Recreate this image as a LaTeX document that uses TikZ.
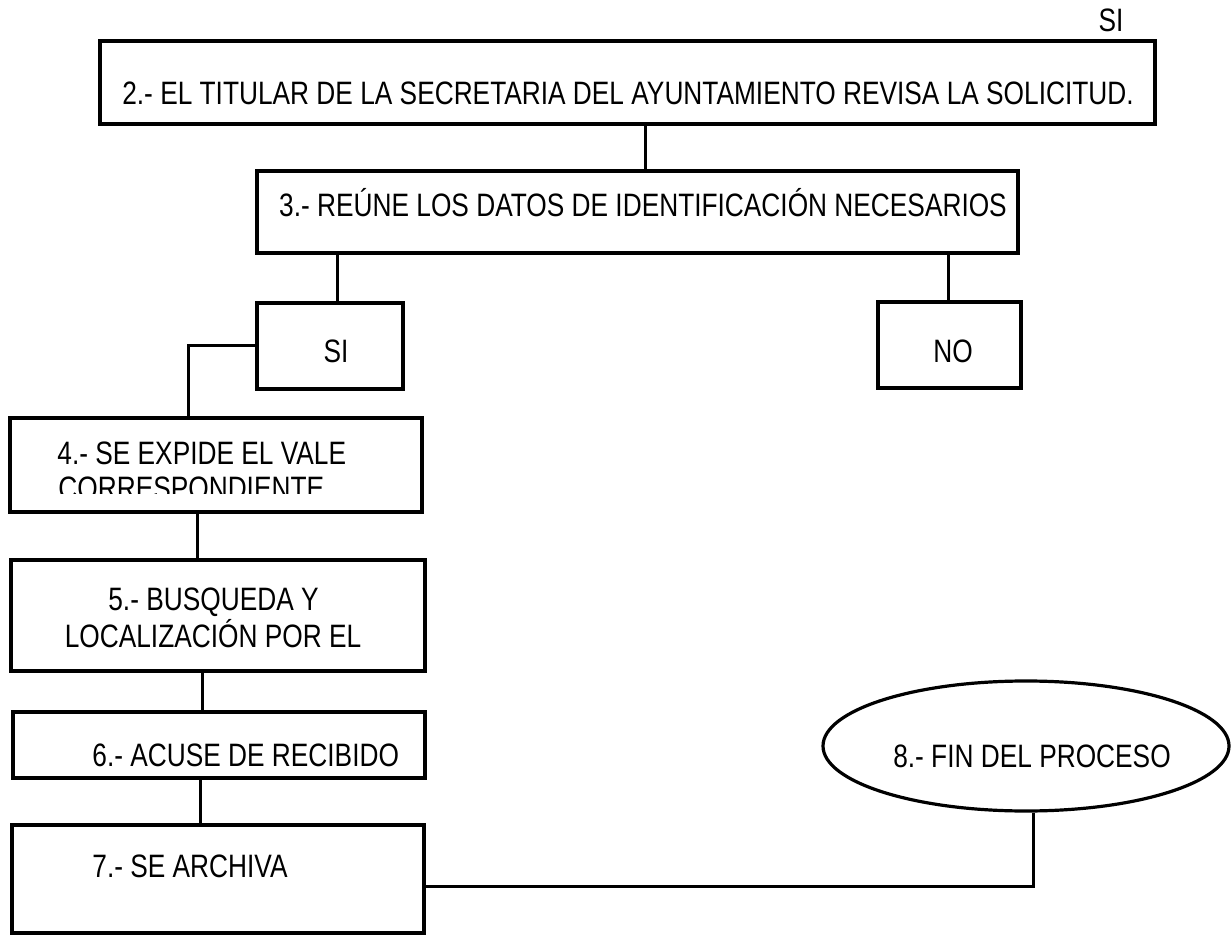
\documentclass[tikz,border=0pt]{standalone}
\usepackage{fontspec}
\setmainfont{Liberation Sans}[FakeStretch=0.811]
\usetikzlibrary{shapes.geometric}
\begin{document}
\begin{tikzpicture}[x=0.5pt,y=-0.5pt,
  box/.style={draw,line width=2pt,rectangle,inner sep=0pt},
  oval/.style={draw,line width=1.6pt,ellipse,inner sep=0pt},
  conn/.style={draw,line width=1.5pt},
  txt/.style={inner sep=0pt,font=\fontsize{16.2}{17}\selectfont},
  tb/.style={txt,anchor=base},
  tl/.style={txt,anchor=base west}]
\useasboundingbox (0,0) rectangle (1231,935);
% boxes
\node[box,minimum width=527.5pt,minimum height=41.5pt] (b2) at (627.5,82.5) {};
\node[box,minimum width=380.5pt,minimum height=41pt] (b3) at (637.5,212) {};
\node[box,minimum width=73pt,minimum height=43pt] (bsi) at (330,346) {};
\node[box,minimum width=71.5pt,minimum height=43pt] (bno) at (949.5,345) {};
\node[box,minimum width=206pt,minimum height=47pt] (b4) at (216,465) {};
\node[box,minimum width=207pt,minimum height=55.5pt] (b5) at (218,615.5) {};
\node[box,minimum width=206pt,minimum height=33pt] (b6) at (219,745) {};
\node[box,minimum width=206pt,minimum height=54pt] (b7) at (218,879) {};
\node[oval,minimum width=203pt,minimum height=65pt] (e8) at (1026,746) {};
% texts
\node[tb] (tsi0) at (1111,32) {SI};
\node[tb] (t2) at (628,105) {2.- EL TITULAR DE LA SECRETARIA DEL AYUNTAMIENTO REVISA LA SOLICITUD.};
\node[tb] (t3) at (643,217) {3.- REÚNE LOS DATOS DE IDENTIFICACIÓN NECESARIOS};
\node[tb] (tsi) at (336,363) {SI};
\node[tb] (tno) at (953,363) {NO};
\node[tl] (t4a) at (57,465) {4.- SE EXPIDE EL VALE};
\begin{scope}
  \clip (0,400) rectangle (1231,493);
  \node[tl] (t4b) at (58,499) {CORRESPONDIENTE};
\end{scope}
\node[tb] (t5a) at (213.5,610) {5.- BUSQUEDA Y};
\node[tb] (t5b) at (213,647) {LOCALIZACIÓN POR EL};
\node[tl] (t6) at (92,766) {6.- ACUSE DE RECIBIDO};
\node[tl] (t7) at (92,877) {7.- SE ARCHIVA};
\node[tb] (t8) at (1032,767) {8.- FIN DEL PROCESO};
% guide coordinates
\coordinate (x645) at (645,0);
\coordinate (x337) at (337,0);
\coordinate (x948) at (948,0);
\coordinate (x188) at (188,0);
\coordinate (x197) at (197,0);
\coordinate (x202) at (202,0);
\coordinate (x200) at (200,0);
\coordinate (x1033) at (1033,0);
% connectors
\draw[conn] (b2.south -| x645) -- (b3.north -| x645);
\draw[conn] (b3.south -| x337) -- (bsi.north -| x337);
\draw[conn] (b3.south -| x948) -- (bno.north -| x948);
\draw[conn] (bsi.west) -| (b4.north -| x188);
\draw[conn] (b4.south -| x197) -- (b5.north -| x197);
\draw[conn] (b5.south -| x202) -- (b6.north -| x202);
\draw[conn] (b6.south -| x200) -- (b7.north -| x200);
\draw[conn] ([yshift=-3.5pt]b7.east) -| (e8.south -| x1033);
\end{tikzpicture}
\end{document}
